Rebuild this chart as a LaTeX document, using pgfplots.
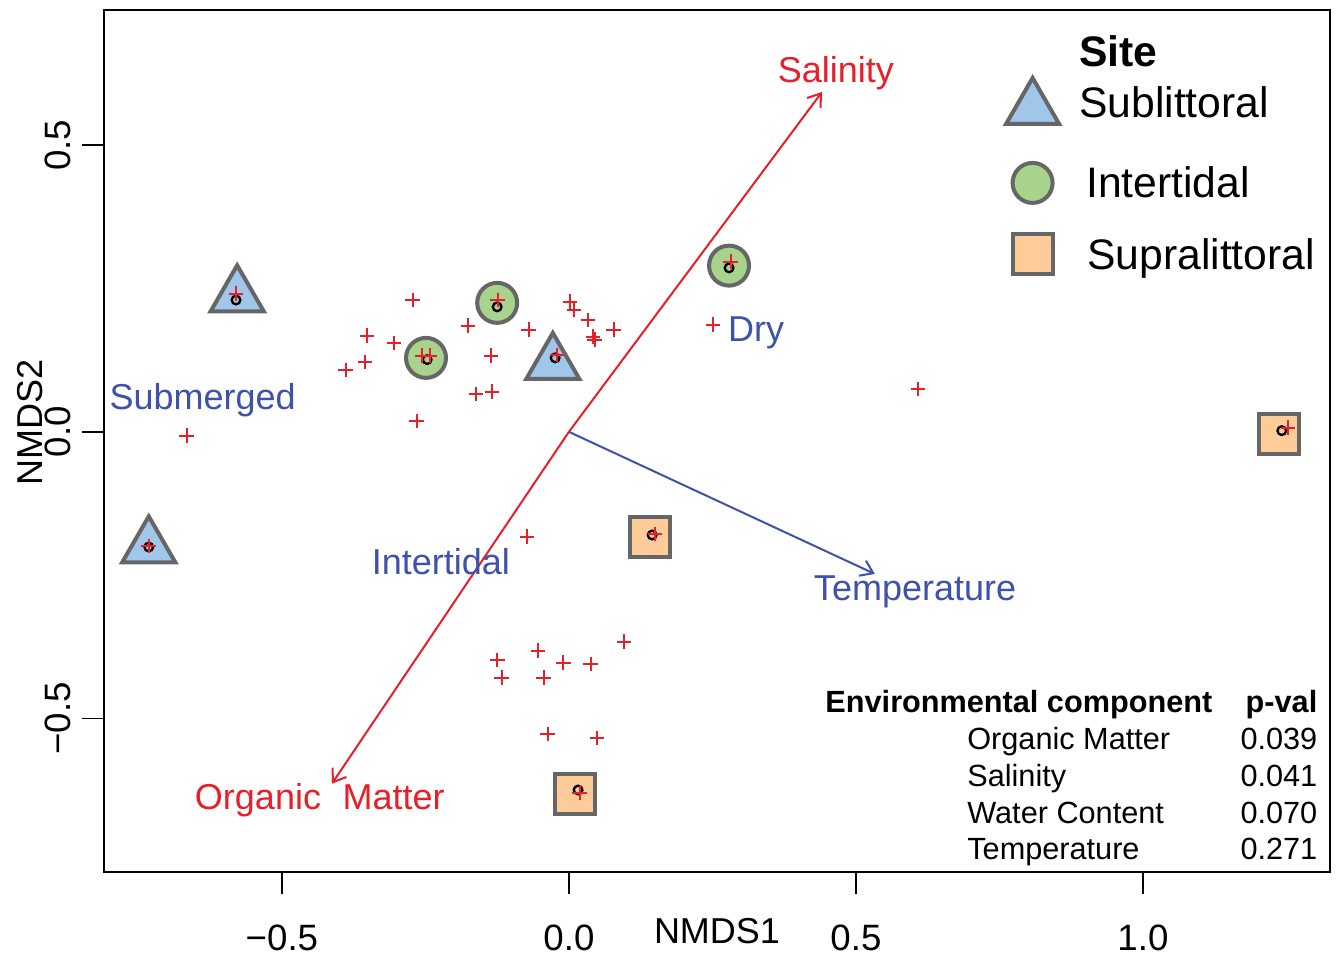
\documentclass[border=0pt]{standalone}
\usepackage{fontspec}
\setmainfont{Liberation Sans}
\usepackage{pgfplots}
\usepackage{pgfplotstable}
\pgfplotsset{compat=1.18}
\usetikzlibrary{arrows.meta,calc}

\definecolor{triblue}{RGB}{160,199,234}
\definecolor{cirgreen}{RGB}{168,211,140}
\definecolor{sqorange}{RGB}{253,204,153}
\definecolor{edgegray}{RGB}{102,102,102}
\definecolor{arrred}{RGB}{232,30,40}
\definecolor{txtblue}{RGB}{62,82,170}

% legend image: mark raised by #1, cell box from depth #2 to height #3
\pgfplotsset{
  legimg/.style n args={3}{legend image code/.code={%
    \draw[##1, overlay] plot coordinates {(0pt,#1)};
    \path[draw=none, fill=none] (-9pt,-#2) rectangle (12pt,#3);}},
}

% site scores
\pgfplotstableread{
x y
-0.578 0.237
-0.028 0.119
-0.732 -0.201
}\sublit
\pgfplotstableread{
x y
-0.249 0.129
-0.125 0.225
0.279 0.290
}\intert
\pgfplotstableread{
x y
0.141 -0.183
1.237 -0.003
0.010 -0.632
}\supra
% site centroids (small black rings)
\pgfplotstableread{
x y
-0.580 0.230
-0.024 0.129
-0.732 -0.201
-0.247 0.126
-0.125 0.218
0.279 0.286
0.145 -0.180
1.242 0.002
0.016 -0.625
}\cents
% species scores
\pgfplotstableread{
x y
-0.580 0.241
-0.272 0.230
-0.352 0.168
-0.305 0.155
-0.355 0.122
-0.389 0.108
-0.256 0.133
-0.242 0.133
-0.176 0.185
-0.124 0.230
-0.136 0.133
-0.162 0.066
-0.134 0.070
-0.265 0.019
-0.666 -0.007
-0.070 0.178
0.002 0.227
0.009 0.213
0.033 0.195
0.042 0.166
0.045 0.161
0.078 0.178
-0.021 0.134
0.282 0.297
0.251 0.187
0.608 0.075
1.253 0.007
-0.073 -0.183
0.150 -0.178
-0.732 -0.199
-0.125 -0.398
-0.117 -0.429
-0.054 -0.382
-0.044 -0.429
-0.010 -0.403
0.038 -0.405
0.096 -0.366
-0.037 -0.527
0.049 -0.534
0.019 -0.630
}\species

\begin{document}
\begin{tikzpicture}
\begin{axis}[
    name=ax,
    scale only axis,
    width=367.8pt, height=258.6pt,
    xmin=-0.810, xmax=1.326,
    ymin=-0.768, ymax=0.736,
    xtick={-0.5,0,0.5,1}, xticklabels={−0.5,0.0,0.5,1.0},
    ytick={-0.5,0,0.5}, yticklabels={−0.5,0.0,0.5},
    xtick pos=left, ytick pos=left,
    tick align=outside,
    major tick length=6.5pt,
    axis line style={line width=0.8pt},
    tick style={line width=0.5pt, black},
    tick label style={font=\fontsize{11}{13}\selectfont},
    xticklabel style={anchor=center, yshift=-13.3pt},
    yticklabel style={anchor=center, xshift=-7.3pt, rotate=90},
    xlabel={NMDS1}, ylabel={NMDS2},
    label style={font=\fontsize{10.8}{13}\selectfont},
    x label style={at={(axis description cs:0.5,-0.0684)}, anchor=center},
    y label style={at={(axis description cs:-0.06,0.522)}, anchor=center},
    clip=false,
    legend style={at={(axis cs:0.7544,0.7033)}, anchor=north west,
      draw=none, fill=none, inner sep=0pt,
      font=\fontsize{12.8}{15}\selectfont},
    legend cell align=left,
    legend style={cells={anchor=base west, inner sep=0pt}},
]
\addlegendimage{empty legend}
\addlegendentry{\textbf{Site}}

\addplot[only marks, mark=triangle*, mark size=9.2pt,
  mark options={fill=triblue, draw=edgegray, line width=1.2pt},
  legimg={2.7pt}{12.8pt}{11.7pt}]
  table {\sublit};
\addlegendentry{Sublittoral}

\addplot[only marks, mark=*, mark size=6pt,
  mark options={fill=cirgreen, draw=edgegray, line width=1.2pt},
  legimg={4.5pt}{10.1pt}{10pt}]
  table {\intert};
\addlegendentry{\hspace{2.1pt}Intertidal}

\addplot[only marks, mark=square*, mark size=6pt,
  mark options={fill=sqorange, draw=edgegray, line width=1.2pt},
  legimg={4.5pt}{3pt}{10pt}]
  table {\supra};
\addlegendentry{\hspace{2.4pt}Supralittoral}

\addplot[forget plot, only marks, mark=o, mark size=1.3pt,
  mark options={draw=black, line width=0.7pt}] table {\cents};
\addplot[forget plot, only marks, mark=+, mark size=2.2pt,
  mark options={draw=arrred, line width=0.6pt}] table {\species};

% fitted vectors
\addplot[forget plot, arrred, line width=0.6pt,
  -{Straight Barb[length=3.6pt,width=5pt]}] coordinates {(0,0) (0.441,0.593)};
\addplot[forget plot, arrred, line width=0.6pt,
  -{Straight Barb[length=3.6pt,width=5pt]}] coordinates {(0,0) (-0.413,-0.614)};
\addplot[forget plot, txtblue, line width=0.6pt,
  -{Straight Barb[length=3.6pt,width=5pt]}] coordinates {(0,0) (0.533,-0.248)};

\begin{scope}[font=\fontsize{10.8}{13}\selectfont]
\node[arrred] at (axis cs:0.465,0.625) {Salinity};
\node[arrred] at (axis cs:-0.434,-0.643) {Organic\hspace{0.6em}Matter};
\node[txtblue] at (axis cs:0.603,-0.280) {Temperature};
\node[txtblue] at (axis cs:0.326,0.172) {Dry};
\node[txtblue] at (axis cs:-0.638,0.055) {Submerged};
\node[txtblue] at (axis cs:-0.223,-0.226) {Intertidal};
\end{scope}

\begin{scope}[font=\fontsize{9.2}{11}\selectfont, inner sep=0pt]
\node[anchor=base east] at (axis cs:1.122,-0.490) {\textbf{Environmental component}};
\node[anchor=base east] at (axis cs:1.305,-0.490) {\textbf{p-val}};
\node[anchor=base west] at (axis cs:0.693,-0.555) {Organic Matter};
\node[anchor=base west] at (axis cs:0.693,-0.618) {Salinity};
\node[anchor=base west] at (axis cs:0.693,-0.683) {Water Content};
\node[anchor=base west] at (axis cs:0.693,-0.747) {Temperature};
\node[anchor=base east] at (axis cs:1.305,-0.555) {0.039};
\node[anchor=base east] at (axis cs:1.305,-0.618) {0.041};
\node[anchor=base east] at (axis cs:1.305,-0.683) {0.070};
\node[anchor=base east] at (axis cs:1.305,-0.747) {0.271};
\end{scope}
\end{axis}
\pgfresetboundingbox
\path ($(ax.south west)+(-31.2pt,-25.8pt)$) rectangle ($(ax.north east)+(1.8pt,3pt)$);
\end{tikzpicture}
\end{document}
